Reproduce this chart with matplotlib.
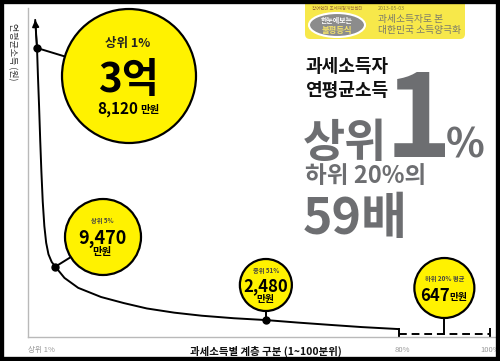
"""
Income polarisation infographic: average taxable income by percentile.
"""

import matplotlib
matplotlib.use('Agg')
import matplotlib.pyplot as plt
from matplotlib.patches import Circle, Ellipse, FancyBboxPatch, Rectangle

plt.rcParams['font.family'] = ['Noto Sans CJK KR', 'DejaVu Sans']

# curve: percentile (top 0..100) vs average income (만원)
curve_pct = [0.6, 1, 1.2, 1.45, 1.7, 1.95, 2.25, 2.6, 3.0, 3.5, 4.2, 5,
             7, 10, 15, 20, 25, 31, 37, 44, 51, 58, 65, 72, 80]
curve_income = [41800, 38120, 34500, 30500, 26000, 22000, 18000, 14800, 12600,
                11100, 10100, 9470, 8000, 6700, 5500, 4700, 4000, 3450, 3050,
                2720, 2480, 2150, 1850, 1560, 1300]

# bottom 20% average (dashed segment)
bottom_pct = [80, 100]
bottom_income = [647, 647]

# highlighted points
point_pct = [1, 5, 51]
point_income = [38120, 9470, 2480]

GRAY = '#6d6e71'
YELLOW = '#fff200'

fig = plt.figure(figsize=(5, 3.61), dpi=100)
W, H = 500, 361

# main data axes, placed by pixel box
ax = fig.add_axes([28 / W, (H - 337) / H, (497 - 28) / W, (337 - 8) / H])
ax.set_xlim(-0.97, 101.5)
ax.set_ylim(262, 43360)
ax.patch.set_alpha(0)
for side in ['top', 'right']:
    ax.spines[side].set_visible(False)
for side in ['left', 'bottom']:
    ax.spines[side].set_color('#b9b9b9')
    ax.spines[side].set_linewidth(1.0)
ax.set_xticks([])
ax.set_yticks([])

ax.plot(curve_pct, curve_income, color='black', lw=1.4, solid_capstyle='round')
ax.plot(bottom_pct, bottom_income, color='black', lw=1.4, dashes=(4, 2.5))
ax.annotate('', xy=(curve_pct[0], curve_income[0]),
            xytext=(curve_pct[1], curve_income[1]),
            arrowprops=dict(arrowstyle='-|>', color='black', lw=1.2,
                            mutation_scale=10, shrinkA=0, shrinkB=0))
ax.plot(point_pct, point_income, 'o', color='black', ms=5, zorder=5)
ax.plot(bottom_pct, bottom_income, '|', color='black', ms=8, mew=1.4)

# overlay in pixel coordinates for the bubbles and text
ov = fig.add_axes([0, 0, 1, 1])
ov.set_xlim(0, W)
ov.set_ylim(H, 0)
ov.axis('off')
ov.patch.set_alpha(0)


def to_px(x, y):
    disp = ax.transData.transform((x, y))
    return ov.transData.inverted().transform(disp)


def bubble(cx, cy, r, anchor):
    ax_, ay_ = anchor
    ov.plot([ax_, cx], [ay_, cy], color='black', lw=1.4, zorder=2)
    ov.add_patch(Circle((cx, cy), r, facecolor=YELLOW, edgecolor='black',
                        lw=1.6, zorder=3))


# top 1%
p1 = to_px(point_pct[0], point_income[0])
bubble(129, 76, 67, p1)
ov.text(128, 44, '상위 1%', ha='center', va='center', fontsize=9,
        fontweight='bold', color='#222222', zorder=4)
ov.text(128, 80, '3억', ha='center', va='center', fontsize=29,
        fontweight='black', color='black', zorder=4)
ov.text(118, 109, '8,120', ha='center', va='center', fontsize=11,
        fontweight='bold', color='black', zorder=4)
ov.text(150, 110, '만원', ha='center', va='center', fontsize=7.5,
        fontweight='bold', color='black', zorder=4)

# top 5%
p5 = to_px(point_pct[1], point_income[1])
bubble(103, 237, 38, p5)
ov.text(102, 220, '상위 5%', ha='center', va='center', fontsize=4.5,
        fontweight='bold', color='#444444', zorder=4)
ov.text(102, 238, '9,470', ha='center', va='center', fontsize=13,
        fontweight='bold', color='black', zorder=4)
ov.text(102, 252, '만원', ha='center', va='center', fontsize=7.5,
        fontweight='bold', color='black', zorder=4)

# median 51%
p51 = to_px(point_pct[2], point_income[2])
bubble(p51[0], 285, 26, p51)
ov.text(p51[0], 270, '중위 51%', ha='center', va='center', fontsize=4.5,
        fontweight='bold', color='#444444', zorder=4)
ov.text(p51[0], 286, '2,480', ha='center', va='center', fontsize=12,
        fontweight='bold', color='black', zorder=4)
ov.text(p51[0], 299, '만원', ha='center', va='center', fontsize=7,
        fontweight='bold', color='black', zorder=4)

# bottom 20% average
p20 = to_px(90, bottom_income[0])
p80 = to_px(bottom_pct[0], bottom_income[0])
bubble(p20[0], 288, 30, p20)
ov.text(p20[0], 278, '하위 20% 평균', ha='center', va='center', fontsize=4.5,
        fontweight='bold', color='#444444', zorder=4)
ov.text(p20[0] - 9, 296, '647', ha='center', va='center', fontsize=12,
        fontweight='bold', color='black', zorder=4)
ov.text(p20[0] + 14, 297, '만원', ha='center', va='center', fontsize=7,
        fontweight='bold', color='black', zorder=4)

# axis labels
ov.text(14, 52, '연평균소득 (원)', rotation=-90, ha='center', va='center',
        fontsize=6.5, color='#333333')
ov.text(28, 350, '상위 1%', ha='left', va='center', fontsize=5.5, color='#999999')
ov.text(266, 351, '과세소득별 계층 구분 (1~100분위)', ha='center', va='center',
        fontsize=7.5, fontweight='bold', color='#111111')
ov.text(p80[0] + 4, 350, '80%', ha='center', va='center', fontsize=5.5,
        color='#999999')
ov.text(490, 350, '100%', ha='center', va='center', fontsize=5.5, color='#999999')

# title tag
ov.add_patch(FancyBboxPatch((305, -10), 160, 49,
                            boxstyle='round,pad=0,rounding_size=5',
                            facecolor='#f7e84a', edgecolor='none', zorder=1))
ov.add_patch(Ellipse((337, 25), 56, 24, facecolor='#8c8c8c',
                     edgecolor='white', lw=1.5, zorder=2))
ov.text(337, 9, '참여연대 조세재정개혁센터', ha='center', va='center',
        fontsize=3.2, color='#9a6a3a', zorder=3)
ov.text(337, 21, '한눈에보는', ha='center', va='center', fontsize=5,
        fontweight='bold', color='white', zorder=3)
ov.text(337, 30, '불평등식', ha='center', va='center', fontsize=6,
        fontweight='bold', color='#f3e26a', zorder=3)
ov.text(378, 9, '2013-05-03', ha='left', va='center', fontsize=3.8,
        color='#8a7f3a', zorder=3)
ov.text(378, 19, '과세소득자로 본', ha='left', va='center', fontsize=7,
        color='#7a7a6a', zorder=3)
ov.text(378, 30, '대한민국 소득양극화', ha='left', va='center', fontsize=7,
        color='#7a7a6a', zorder=3)

# headline
ov.text(305, 67, '과세소득자', ha='left', va='center', fontsize=13,
        fontweight='bold', color='#111111')
ov.text(305, 90, '연평균소득', ha='left', va='center', fontsize=13,
        fontweight='bold', color='#111111')
ov.text(418, 157, '1', ha='center', va='baseline', fontsize=82,
        fontweight='black', color=GRAY)
ov.text(303, 157, '상위', ha='left', va='baseline', fontsize=33,
        fontweight='black', color=GRAY)
ov.text(465, 157, '%', ha='center', va='baseline', fontsize=29,
        fontweight='bold', color=GRAY)
ov.text(305, 176, '하위 20%의', ha='left', va='center', fontsize=17,
        fontweight='bold', color=GRAY)
ov.text(303, 234, '59배', ha='left', va='baseline', fontsize=36,
        fontweight='black', color=GRAY)

# black frame
ov.add_patch(Rectangle((0, 0), W, H, facecolor='none', edgecolor='black',
                       lw=6, zorder=10))

fig.savefig('out.png', dpi=100)
